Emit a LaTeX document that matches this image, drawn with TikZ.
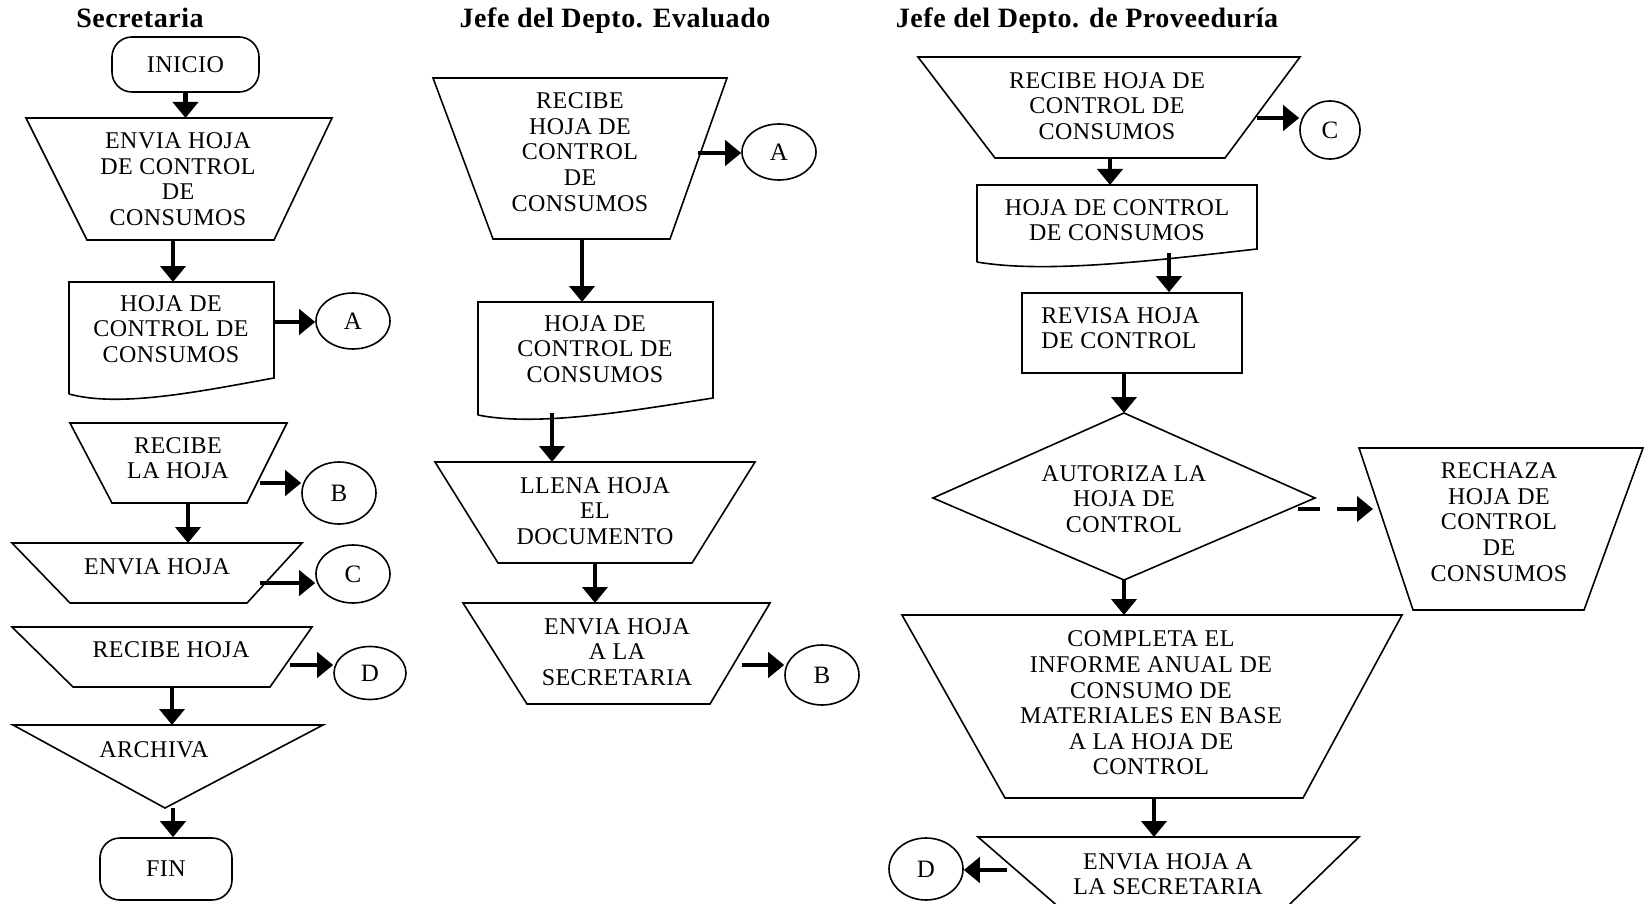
\documentclass[tikz,border=0pt]{standalone}
\usepackage{fontspec}
\setmainfont{Liberation Serif}
\usetikzlibrary{shapes.geometric,arrows.meta}

\tikzset{
  outline/.style={draw, line width=0.8pt, line join=miter},
  txt/.style={font=\fontsize{12}{12.8}\selectfont\addfontfeatures{LetterSpace=2}, align=center, inner sep=0pt},
  lanetitle/.style={font=\fontsize{14}{16}\selectfont\bfseries\addfontfeatures{LetterSpace=2}, inner sep=0pt, anchor=base},
  conn/.style={draw, ellipse, line width=0.8pt, inner sep=0pt, font=\fontsize{12.5}{14}\selectfont},
  terminal/.style={draw, line width=0.8pt, rounded corners=10pt, inner sep=0pt,
                   font=\fontsize{12}{12.8}\selectfont\addfontfeatures{LetterSpace=2}},
  arr/.style={line width=2.3pt, -{Triangle[length=8pt,width=12.5pt]}},
}

% manual-operation trapezium: name, top y, top left x, top right x, bottom y, bottom left x, bottom right x
\newcommand\trapshape[7]{%
  \draw[outline] (#3,#2) coordinate (#1-nw) -- (#4,#2) coordinate (#1-ne)
    -- (#7,#5) coordinate (#1-se) -- (#6,#5) coordinate (#1-sw) -- cycle;}

\begin{document}
\begin{tikzpicture}[x=0.5pt,y=-0.5pt]
\useasboundingbox (0,0) rectangle (1645,904);
\begin{scope}
\clip (0,0) rectangle (1645,904);

% ---------------- Secretaria ----------------
\node[lanetitle] (h1) at (140,28) {Secretaria};

\node[terminal, minimum width=73.5pt, minimum height=27.5pt] (inicio) at (185.5,64.5) {INICIO};

\trapshape{t1}{118}{26}{332}{240}{87}{274}
\node[txt] (t1txt) at (178,179) {ENVIA HOJA\\DE CONTROL\\DE\\CONSUMOS};

\draw[outline] (69,394) coordinate (d1-sw) -- (69,282) coordinate (d1-nw)
  -- (274,282) coordinate (d1-ne) -- (274,378) coordinate (d1-se)
  .. controls (202,391) and (120,408) .. (d1-sw);
\node[txt] (d1txt) at (171,329) {HOJA DE\\CONTROL DE\\CONSUMOS};
\node[conn, minimum width=37pt, minimum height=28pt] (ca1) at (353,321) {A};

\trapshape{t2}{423}{70}{287}{503}{112}{247}
\node[txt] (t2txt) at (178,458) {RECIBE\\LA HOJA};
\node[conn, minimum width=37pt, minimum height=31pt] (cb1) at (339,493) {B};

\trapshape{t3}{543}{12}{302}{603}{70}{247}
\node[txt] (t3txt) at (157,567) {ENVIA HOJA};
\node[conn, minimum width=37pt, minimum height=29pt] (cc1) at (353,574) {C};

\trapshape{t4}{627}{12}{312}{687}{73}{270}
\node[txt] (t4txt) at (171,650) {RECIBE HOJA};
\node[conn, minimum width=36pt, minimum height=26.5pt] (cd1) at (370,673) {D};

\draw[outline] (13,725) coordinate (ar-nw) -- (323,725) coordinate (ar-ne)
  -- (165,808) coordinate (ar-s) -- cycle;
\node[txt] (artxt) at (154,750) {ARCHIVA};

\node[terminal, minimum width=66pt, minimum height=31pt] (fin) at (166,869) {FIN};

% connector start points
\coordinate (t1-out) at (173,240);
\coordinate (d1-out) at (274,322);
\coordinate (t2-out) at (260,483);
\coordinate (t2-bot) at (188,503);
\coordinate (t3-out) at (260,583);
\coordinate (t4-out) at (290,665);
\coordinate (t4-bot) at (172,687);

\draw[arr] (inicio.south) -- (inicio.south |- t1-nw);
\draw[arr] (t1-out) -- (t1-out |- d1-nw);
\draw[arr] (d1-out) -- (d1-out -| ca1.west);
\draw[arr] (t2-out) -- (t2-out -| cb1.west);
\draw[arr] (t2-bot) -- (t2-bot |- t3-nw);
\draw[arr] (t3-out) -- (t3-out -| cc1.west);
\draw[arr] (t4-out) -- (t4-out -| cd1.west);
\draw[arr] (t4-bot) -- (t4-bot |- ar-nw);
\draw[arr] ([xshift=3.5pt]fin.north |- ar-s) -- ([xshift=3.5pt]fin.north);

% ---------------- Jefe del Depto. Evaluado ----------------
\node[lanetitle] (h2) at (615,28) {Jefe del Depto. Evaluado};

\trapshape{t5}{78}{433}{727}{239}{493}{670}
\node[txt] (t5txt) at (580,152) {RECIBE\\HOJA DE\\CONTROL\\DE\\CONSUMOS};
\node[conn, minimum width=37pt, minimum height=28pt] (ca2) at (779,152) {A};

\draw[outline] (478,415) coordinate (d2-sw) -- (478,302) coordinate (d2-nw)
  -- (713,302) coordinate (d2-ne) -- (713,398) coordinate (d2-se)
  .. controls (631,411) and (537,427) .. (d2-sw);
\node[txt] (d2txt) at (595,349) {HOJA DE\\CONTROL DE\\CONSUMOS};

\trapshape{t6}{462}{435}{755}{563}{498}{692}
\node[txt] (t6txt) at (595,511) {LLENA HOJA\\EL\\DOCUMENTO};

\trapshape{t7}{603}{463}{770}{704}{527}{710}
\node[txt] (t7txt) at (617,652) {ENVIA HOJA\\A LA\\SECRETARIA};
\node[conn, minimum width=37pt, minimum height=30pt] (cb2) at (822,675) {B};

\coordinate (t5-out) at (698,153);
\coordinate (t5-bot) at (582,239);
\coordinate (d2-bot) at (552,413);
\coordinate (t6-bot) at (595,563);
\coordinate (t7-out) at (742,665);

\draw[arr] (t5-out) -- (t5-out -| ca2.west);
\draw[arr] (t5-bot) -- (t5-bot |- d2-nw);
\draw[arr] (d2-bot) -- (d2-bot |- t6-nw);
\draw[arr] (t6-bot) -- (t6-bot |- t7-nw);
\draw[arr] (t7-out) -- (t7-out -| cb2.west);

% ---------------- Jefe del Depto. de Proveeduria ----------------
\node[lanetitle] (h3) at (1087,28) {Jefe del Depto. de Proveeduría};

\trapshape{t8}{57}{918}{1300}{158}{995}{1225}
\node[txt] (t8txt) at (1107,106) {RECIBE HOJA DE\\CONTROL DE\\CONSUMOS};
\node[conn, minimum width=30pt, minimum height=29pt] (cc3) at (1330,130) {C};

\draw[outline] (977,262) coordinate (d3-sw) -- (977,185) coordinate (d3-nw)
  -- (1257,185) coordinate (d3-ne) -- (1257,249) coordinate (d3-se)
  .. controls (1159,260) and (1047,274) .. (d3-sw);
\node[txt] (d3txt) at (1117,220) {HOJA DE CONTROL\\DE CONSUMOS};

\node[draw, line width=0.8pt, minimum width=110pt, minimum height=40pt, inner sep=0pt] (r1) at (1132,333) {};
\node[txt, anchor=west, align=left] (r1txt) at (1041,328) {REVISA HOJA\\DE CONTROL};

\draw[outline] (1124,413) coordinate (dm-n) -- (1315,498) coordinate (dm-e)
  -- (1124,580) coordinate (dm-s) -- (933,498) coordinate (dm-w) -- cycle;
\node[txt] (dmtxt) at (1124,499) {AUTORIZA LA\\HOJA DE\\CONTROL};

\trapshape{t9}{448}{1359}{1643}{610}{1413}{1584}
\node[txt] (t9txt) at (1499,522) {RECHAZA\\HOJA DE\\CONTROL\\DE\\CONSUMOS};

\trapshape{t10}{615}{902}{1402}{798}{1005}{1303}
\node[txt] (t10txt) at (1151,703) {COMPLETA EL\\INFORME ANUAL DE\\CONSUMO DE\\MATERIALES EN BASE\\A LA HOJA DE\\CONTROL};

\trapshape{t11}{837}{978}{1359}{935}{1091}{1258}
\node[txt] (t11txt) at (1168,874) {ENVIA HOJA A\\LA SECRETARIA};
\node[conn, minimum width=37pt, minimum height=31pt] (cd3) at (926,869) {D};

\coordinate (t8-out) at (1257,118);
\coordinate (t8-bot) at (1110,158);
\coordinate (d3-bot) at (1169,253);
\coordinate (dm-out) at (1298,509);
\coordinate (t9-in) at (1373,509);
\coordinate (t10-bot) at (1154,798);
\coordinate (t11-out) at (1007,870);

\draw[arr] (t8-out) -- (t8-out -| cc3.west);
\draw[arr] (t8-bot) -- (t8-bot |- d3-nw);
\draw[arr] (d3-bot) -- (d3-bot |- r1.north);
\draw[arr] (dm-n |- r1.south) -- (dm-n);
\draw[arr, dash pattern=on 11pt off 8.5pt] (dm-out) -- (t9-in);
\draw[arr] (dm-s) -- (dm-s |- t10-nw);
\draw[arr] (t10-bot) -- (t10-bot |- t11-nw);
\draw[arr] (t11-out) -- (t11-out -| cd3.east);

\end{scope}
\end{tikzpicture}
\end{document}
